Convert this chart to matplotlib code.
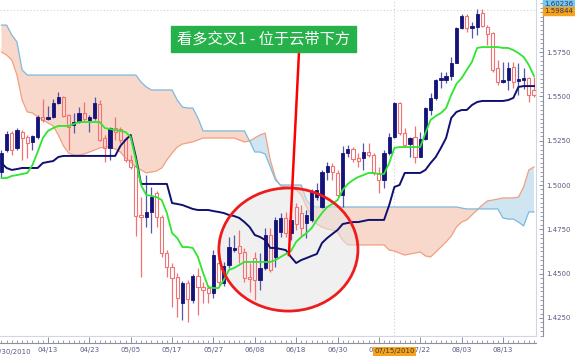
import matplotlib
matplotlib.use('Agg')
import matplotlib.pyplot as plt
from matplotlib.patches import Ellipse, Rectangle
from matplotlib.lines import Line2D
from matplotlib.ticker import MultipleLocator, FixedLocator
import numpy as np

plt.rcParams['font.family'] = ['DejaVu Sans']

# bar index 0 = 04/13/2010, one step per trading day
bar_idx = list(range(-9, 95))

opens = [1.5073, 1.5197, 1.5293, 1.5209, 1.5299, 1.5271, 1.5243, 1.5271, 1.5384,
         1.5372, 1.5384, 1.5462, 1.5496, 1.5395, 1.5338, 1.5355, 1.5406, 1.5367, 1.5378,
         1.5457, 1.5265, 1.5209, 1.5321, 1.5316, 1.5259, 1.5141, 1.5107, 1.4831, 1.4820,
         1.4848, 1.4955, 1.4820, 1.4616, 1.4538, 1.4481, 1.4334, 1.4447, 1.4351, 1.4487,
         1.4425, 1.4419, 1.4391, 1.4560, 1.4447, 1.4549, 1.4633, 1.4656, 1.4622, 1.4481,
         1.4588, 1.4464, 1.4532, 1.4718, 1.4594, 1.4735, 1.4814, 1.4729, 1.4876, 1.4842,
         1.4786, 1.4802, 1.4932, 1.4876, 1.5073, 1.5107, 1.5068, 1.4944, 1.5180, 1.5203,
         1.5152, 1.5152, 1.5186, 1.5169, 1.5068, 1.5028, 1.5180, 1.5271, 1.5462, 1.5293,
         1.5231, 1.5271, 1.5158, 1.5259, 1.5423, 1.5491, 1.5592, 1.5592, 1.5615, 1.5688,
         1.5885, 1.5953, 1.5885, 1.5891, 1.5970, 1.5891, 1.5857, 1.5660, 1.5581, 1.5592,
         1.5666, 1.5587, 1.5592, 1.5603, 1.5536]
highs = [1.5197, 1.5305, 1.5305, 1.5321, 1.5310, 1.5282, 1.5282, 1.5395, 1.5485,
         1.5446, 1.5485, 1.5525, 1.5502, 1.5400, 1.5406, 1.5440, 1.5468, 1.5395, 1.5496,
         1.5479, 1.5282, 1.5327, 1.5384, 1.5327, 1.5271, 1.5169, 1.5124, 1.4932, 1.5056,
         1.4989, 1.4966, 1.4831, 1.4633, 1.4560, 1.4504, 1.4459, 1.4464, 1.4498, 1.4532,
         1.4453, 1.4436, 1.4633, 1.4594, 1.4566, 1.4707, 1.4718, 1.4746, 1.4644, 1.4560,
         1.4622, 1.4616, 1.4757, 1.4757, 1.4819, 1.4842, 1.4848, 1.4831, 1.4898, 1.4887,
         1.4859, 1.4977, 1.5011, 1.5085, 1.5130, 1.5124, 1.5085, 1.5220, 1.5226, 1.5214,
         1.5180, 1.5237, 1.5237, 1.5180, 1.5102, 1.5197, 1.5293, 1.5468, 1.5468, 1.5321,
         1.5271, 1.5333, 1.5299, 1.5440, 1.5519, 1.5598, 1.5637, 1.5637, 1.5722, 1.5891,
         1.5964, 1.5964, 1.5919, 1.5993, 1.5993, 1.5902, 1.5863, 1.5705, 1.5694, 1.5694,
         1.5694, 1.5688, 1.5660, 1.5609, 1.5609]
lows = [1.5045, 1.5186, 1.5169, 1.5197, 1.5141, 1.5152, 1.5197, 1.5259, 1.5355,
        1.5367, 1.5378, 1.5457, 1.5384, 1.5197, 1.5293, 1.5350, 1.5361, 1.5299, 1.5367,
        1.5248, 1.5130, 1.5141, 1.5254, 1.5237, 1.5130, 1.5090, 1.4712, 1.4481, 1.4763,
        1.4729, 1.4763, 1.4594, 1.4481, 1.4312, 1.4255, 1.4239, 1.4227, 1.4334, 1.4267,
        1.4334, 1.4334, 1.4363, 1.4436, 1.4430, 1.4532, 1.4622, 1.4560, 1.4453, 1.4396,
        1.4351, 1.4408, 1.4520, 1.4509, 1.4538, 1.4707, 1.4707, 1.4690, 1.4746, 1.4707,
        1.4701, 1.4791, 1.4915, 1.4870, 1.5028, 1.5028, 1.4932, 1.4876, 1.5158, 1.5130,
        1.5102, 1.5085, 1.5158, 1.5056, 1.4955, 1.4983, 1.5169, 1.5265, 1.5282, 1.5214,
        1.5158, 1.5124, 1.5158, 1.5254, 1.5395, 1.5480, 1.5547, 1.5575, 1.5592, 1.5688,
        1.5880, 1.5863, 1.5829, 1.5846, 1.5891, 1.5790, 1.5637, 1.5564, 1.5575, 1.5536,
        1.5547, 1.5508, 1.5542, 1.5468, 1.5497]
closes = [1.5180, 1.5288, 1.5197, 1.5310, 1.5265, 1.5237, 1.5276, 1.5384, 1.5367,
          1.5384, 1.5462, 1.5496, 1.5389, 1.5327, 1.5355, 1.5406, 1.5372, 1.5384, 1.5462,
          1.5254, 1.5209, 1.5321, 1.5299, 1.5254, 1.5141, 1.5102, 1.4825, 1.4820, 1.4848,
          1.4932, 1.4820, 1.4616, 1.4538, 1.4475, 1.4363, 1.4447, 1.4357, 1.4487, 1.4425,
          1.4408, 1.4391, 1.4605, 1.4453, 1.4543, 1.4650, 1.4645, 1.4616, 1.4475, 1.4470,
          1.4464, 1.4532, 1.4718, 1.4520, 1.4802, 1.4814, 1.4729, 1.4802, 1.4780, 1.4757,
          1.4831, 1.4961, 1.4972, 1.5073, 1.5107, 1.5073, 1.4944, 1.5180, 1.5203, 1.5147,
          1.5135, 1.5186, 1.5169, 1.5068, 1.5028, 1.5180, 1.5271, 1.5462, 1.5293, 1.5226,
          1.5265, 1.5158, 1.5259, 1.5434, 1.5491, 1.5592, 1.5603, 1.5615, 1.5688, 1.5885,
          1.5953, 1.5885, 1.5897, 1.5964, 1.5897, 1.5852, 1.5649, 1.5581, 1.5592, 1.5660,
          1.5581, 1.5598, 1.5603, 1.5508, 1.5508]

# conversion line (green) and base line (navy)
tenkan = [1.5039, 1.5039, 1.5051, 1.5056, 1.5062, 1.5068, 1.5113, 1.5186, 1.5265,
          1.5305, 1.5321, 1.5333, 1.5333, 1.5333, 1.5344, 1.5355, 1.5355, 1.5355, 1.5355,
          1.5355, 1.5321, 1.5316, 1.5310, 1.5305, 1.5299, 1.5271, 1.5141, 1.5000, 1.4944,
          1.4938, 1.4932, 1.4915, 1.4842, 1.4729, 1.4701, 1.4650, 1.4650, 1.4645, 1.4594,
          1.4504, 1.4425, 1.4419, 1.4419, 1.4464, 1.4521, 1.4532, 1.4549, 1.4566, 1.4566,
          1.4566, 1.4566, 1.4566, 1.4566, 1.4577, 1.4594, 1.4611, 1.4628, 1.4679, 1.4707,
          1.4729, 1.4757, 1.4803, 1.4842, 1.4876, 1.4893, 1.4915, 1.4972, 1.5006, 1.5028,
          1.5045, 1.5056, 1.5068, 1.5068, 1.5062, 1.5062, 1.5124, 1.5209, 1.5214, 1.5214,
          1.5214, 1.5214, 1.5214, 1.5293, 1.5367, 1.5389, 1.5406, 1.5434, 1.5508, 1.5570,
          1.5603, 1.5649, 1.5694, 1.5773, 1.5778, 1.5778, 1.5778, 1.5778, 1.5773, 1.5773,
          1.5761, 1.5744, 1.5722, 1.5677, 1.5615]
kijun = [1.5124, 1.5096, 1.5085, 1.5090, 1.5096, 1.5096, 1.5096, 1.5096, 1.5124,
         1.5130, 1.5135, 1.5158, 1.5164, 1.5164, 1.5164, 1.5164, 1.5164, 1.5164, 1.5164,
         1.5164, 1.5164, 1.5164, 1.5164, 1.5220, 1.5254, 1.5282, 1.5158, 1.5006, 1.5006,
         1.5006, 1.5006, 1.5006, 1.5006, 1.4898, 1.4893, 1.4887, 1.4876, 1.4865, 1.4859,
         1.4859, 1.4859, 1.4853, 1.4848, 1.4842, 1.4831, 1.4825, 1.4814, 1.4791, 1.4763,
         1.4718, 1.4707, 1.4690, 1.4645, 1.4645, 1.4639, 1.4633, 1.4594, 1.4560, 1.4577,
         1.4588, 1.4600, 1.4611, 1.4673, 1.4701, 1.4724, 1.4746, 1.4780, 1.4786, 1.4791,
         1.4791, 1.4797, 1.4803, 1.4803, 1.4803, 1.4803, 1.4887, 1.4989, 1.5000, 1.5068,
         1.5068, 1.5068, 1.5068, 1.5085, 1.5124, 1.5158, 1.5209, 1.5265, 1.5378, 1.5412,
         1.5423, 1.5423, 1.5451, 1.5468, 1.5474, 1.5474, 1.5474, 1.5474, 1.5474, 1.5479,
         1.5491, 1.5553, 1.5558, 1.5558, 1.5558]

# cloud edges, already shifted forward as drawn
span_a = [1.5750, 1.5733, 1.5705, 1.5620, 1.5479, 1.5412, 1.5406, 1.5384, 1.5367,
          1.5350, 1.5333, 1.5282, 1.5220, 1.5180, 1.5169, 1.5169, 1.5175, 1.5186, 1.5197,
          1.5209, 1.5214, 1.5214, 1.5203, 1.5186, 1.5152, 1.5130, 1.5102, 1.5085, 1.5068,
          1.5073, 1.5079, 1.5096, 1.5141, 1.5180, 1.5214, 1.5231, 1.5237, 1.5243, 1.5254,
          1.5265, 1.5265, 1.5265, 1.5265, 1.5265, 1.5265, 1.5265, 1.5254, 1.5243, 1.5248,
          1.5265, 1.5282, 1.5293, 1.5141, 1.5039, 1.4994, 1.4989, 1.4983, 1.4972, 1.4944,
          1.4876, 1.4814, 1.4780, 1.4763, 1.4752, 1.4746, 1.4735, 1.4690, 1.4662, 1.4662,
          1.4662, 1.4662, 1.4662, 1.4662, 1.4662, 1.4662, 1.4633, 1.4628, 1.4616, 1.4605,
          1.4611, 1.4616, 1.4622, 1.4600, 1.4594, 1.4622, 1.4650, 1.4679, 1.4712, 1.4763,
          1.4791, 1.4803, 1.4831, 1.4859, 1.4887, 1.4910, 1.4915, 1.4921, 1.4927, 1.4927,
          1.4927, 1.4932, 1.4989, 1.5085, 1.5102]
span_b = [1.5902, 1.5902, 1.5846, 1.5807, 1.5649, 1.5620, 1.5620, 1.5620, 1.5620,
          1.5620, 1.5620, 1.5620, 1.5620, 1.5620, 1.5620, 1.5620, 1.5620, 1.5620, 1.5620,
          1.5620, 1.5620, 1.5620, 1.5620, 1.5620, 1.5620, 1.5620, 1.5620, 1.5581, 1.5553,
          1.5536, 1.5536, 1.5536, 1.5536, 1.5536, 1.5479, 1.5440, 1.5434, 1.5434, 1.5378,
          1.5305, 1.5305, 1.5305, 1.5305, 1.5305, 1.5305, 1.5305, 1.5305, 1.5305, 1.5248,
          1.5186, 1.5186, 1.5175, 1.5102, 1.5028, 1.5000, 1.5000, 1.5000, 1.5000, 1.5000,
          1.4915, 1.4882, 1.4876, 1.4876, 1.4876, 1.4876, 1.4876, 1.4876, 1.4876, 1.4876,
          1.4876, 1.4876, 1.4876, 1.4876, 1.4876, 1.4876, 1.4876, 1.4876, 1.4876, 1.4876,
          1.4876, 1.4876, 1.4876, 1.4876, 1.4876, 1.4876, 1.4876, 1.4876, 1.4876, 1.4876,
          1.4870, 1.4865, 1.4865, 1.4865, 1.4865, 1.4865, 1.4865, 1.4865, 1.4814, 1.4808,
          1.4808, 1.4791, 1.4769, 1.4848, 1.4848]

tick_idx = [0, 8, 16, 24, 32, 40, 48, 56, 64, 72, 80, 88]
tick_labels = ['04/13', '04/23', '05/05', '05/17', '05/27', '06/08', '06/18',
               '06/30', '07/12', '07/22', '08/03', '08/13']
price_ticks = [1.4250, 1.4500, 1.4750, 1.5000, 1.5250, 1.5500, 1.5750]
cursor_idx = 67
cursor_date = '07/15/2010'
cursor_price = 1.59844
top_price = 1.60236
cross_idx = 46.6
cross_price = 1.4605
title = '看多交叉1 - 位于云带下方'

NAVY = '#13137a'
RED = '#f07272'
LABEL = '#5a5a86'

fig = plt.figure(figsize=(5.75, 3.59), dpi=100)
ax = fig.add_axes([0, 1 - 336 / 359, 536 / 575, 336 / 359])

x = np.array(bar_idx)
a = np.array(span_a)
b = np.array(span_b)
ax.fill_between(x, a, b, where=b >= a, interpolate=True, color='#f8d8cb', lw=0, zorder=1)
ax.fill_between(x, a, b, where=a > b, interpolate=True, color='#cfe5f2', lw=0, zorder=1)
ax.plot(x, a, color='#f0a080', lw=0.9, zorder=1.5)
ax.plot(x, b, color='#7db9dc', lw=0.9, zorder=1.5)

# crosshair
ax.axhline(cursor_price, color='#cfcfd6', lw=0.8, ls=(0, (1, 2)), zorder=0.5)
ax.axvline(cursor_idx, color='#cfcfd6', lw=0.8, ls=(0, (1, 2)), zorder=0.5)

ax.add_patch(Ellipse((46.5, 1.4636), 26.9, 0.0694, facecolor='#e4e4e4', alpha=0.55,
                     edgecolor='none', zorder=2))
ax.add_patch(Ellipse((46.5, 1.4636), 26.9, 0.0694, facecolor='none',
                     edgecolor='#ee1d1d', lw=2.0, zorder=6))

# candles
w = 0.62
for i, o, h, l, c in zip(bar_idx, opens, highs, lows, closes):
    top, bot = max(o, c), min(o, c)
    if c >= o:
        ax.vlines(i, l, h, color='#5656a8', lw=0.9, zorder=3)
        ax.bar(i, max(top - bot, 0.0003), w, bot, color=NAVY, edgecolor=NAVY, lw=0.6, zorder=3.2)
    else:
        ax.vlines(i, top, h, color=RED, lw=0.9, zorder=3)
        ax.vlines(i, l, bot, color=RED, lw=0.9, zorder=3)
        ax.bar(i, max(top - bot, 0.0003), w, bot, facecolor='none', edgecolor=RED, lw=0.8, zorder=3.2)

ax.plot(x, kijun, color='#101070', lw=1.4, zorder=4)
ax.plot(x, tenkan, color='#2fe52f', lw=1.3, zorder=4.5)

ax.plot([48.55, cross_idx], [1.5750, cross_price], color='#ff0000', lw=1.8, zorder=7)

ax.set_xlim(-9.28, 94.39)
ax.set_ylim(1.41484, 1.60434)

for s in ['top', 'left']:
    ax.spines[s].set_visible(False)
for s in ['right', 'bottom']:
    ax.spines[s].set_position(('outward', 5))
    ax.spines[s].set_color('#8e8ea0')
    ax.spines[s].set_linewidth(0.8)
ax.add_line(Line2D([1, 1], [0, 1], transform=ax.transAxes, color='#d2d6e2', lw=0.8, clip_on=False))
ax.add_line(Line2D([0, 1], [0, 0], transform=ax.transAxes, color='#d2d6e2', lw=0.8, clip_on=False))

ax.yaxis.tick_right()
ax.yaxis.set_major_locator(FixedLocator(price_ticks))
ax.yaxis.set_minor_locator(MultipleLocator(0.0025))
ax.set_yticklabels(['%.4f' % p for p in price_ticks])
ax.xaxis.set_major_locator(FixedLocator(tick_idx))
ax.xaxis.set_minor_locator(MultipleLocator(1))
ax.set_xticklabels(tick_labels)
ax.tick_params(which='both', direction='in', colors='#8e8ea0', labelcolor=LABEL, labelsize=5)
ax.tick_params(which='major', length=4, width=0.7, pad=3)
ax.tick_params(which='minor', length=2, width=0.6)
ax.tick_params(axis='y', which='major', length=3, pad=2.5)

fig.text(31 / 575, 1 - 352 / 359, '03/30/2010', ha='right', va='center', fontsize=5, color=LABEL)
fig.text(394.5 / 575, 1 - 351.5 / 359, cursor_date, ha='center', va='center', fontsize=5,
         color='#3a3a3a', bbox=dict(boxstyle='square,pad=0.15', fc='#f7a21b', ec='none'), zorder=10)

fig.add_artist(Rectangle((543 / 575, 1 - 7.5 / 359), 32 / 575, 7.5 / 359,
                         transform=fig.transFigure, color='#74c8f2', zorder=9))
fig.add_artist(Rectangle((543 / 575, 1 - 15 / 359), 32 / 575, 7.5 / 359,
                         transform=fig.transFigure, color='#f7a21b', zorder=9))
fig.text(559 / 575, 1 - 3.8 / 359, '%.5f' % top_price, ha='center', va='center', fontsize=5,
         color='#333355', zorder=10)
fig.text(559 / 575, 1 - 11.3 / 359, '%.5f' % cursor_price, ha='center', va='center', fontsize=5,
         color='#333355', zorder=10)

fig.add_artist(Rectangle((171 / 575, 1 - 52 / 359), 185 / 575, 26 / 359,
                         transform=fig.transFigure, color='#27b14a', zorder=8))
fig.text(263.5 / 575, 1 - 39.5 / 359, title, ha='center', va='center', fontsize=11,
         color='white', family=['Noto Sans CJK SC', 'DejaVu Sans'], zorder=10)

fig.savefig('out.png', dpi=100)
